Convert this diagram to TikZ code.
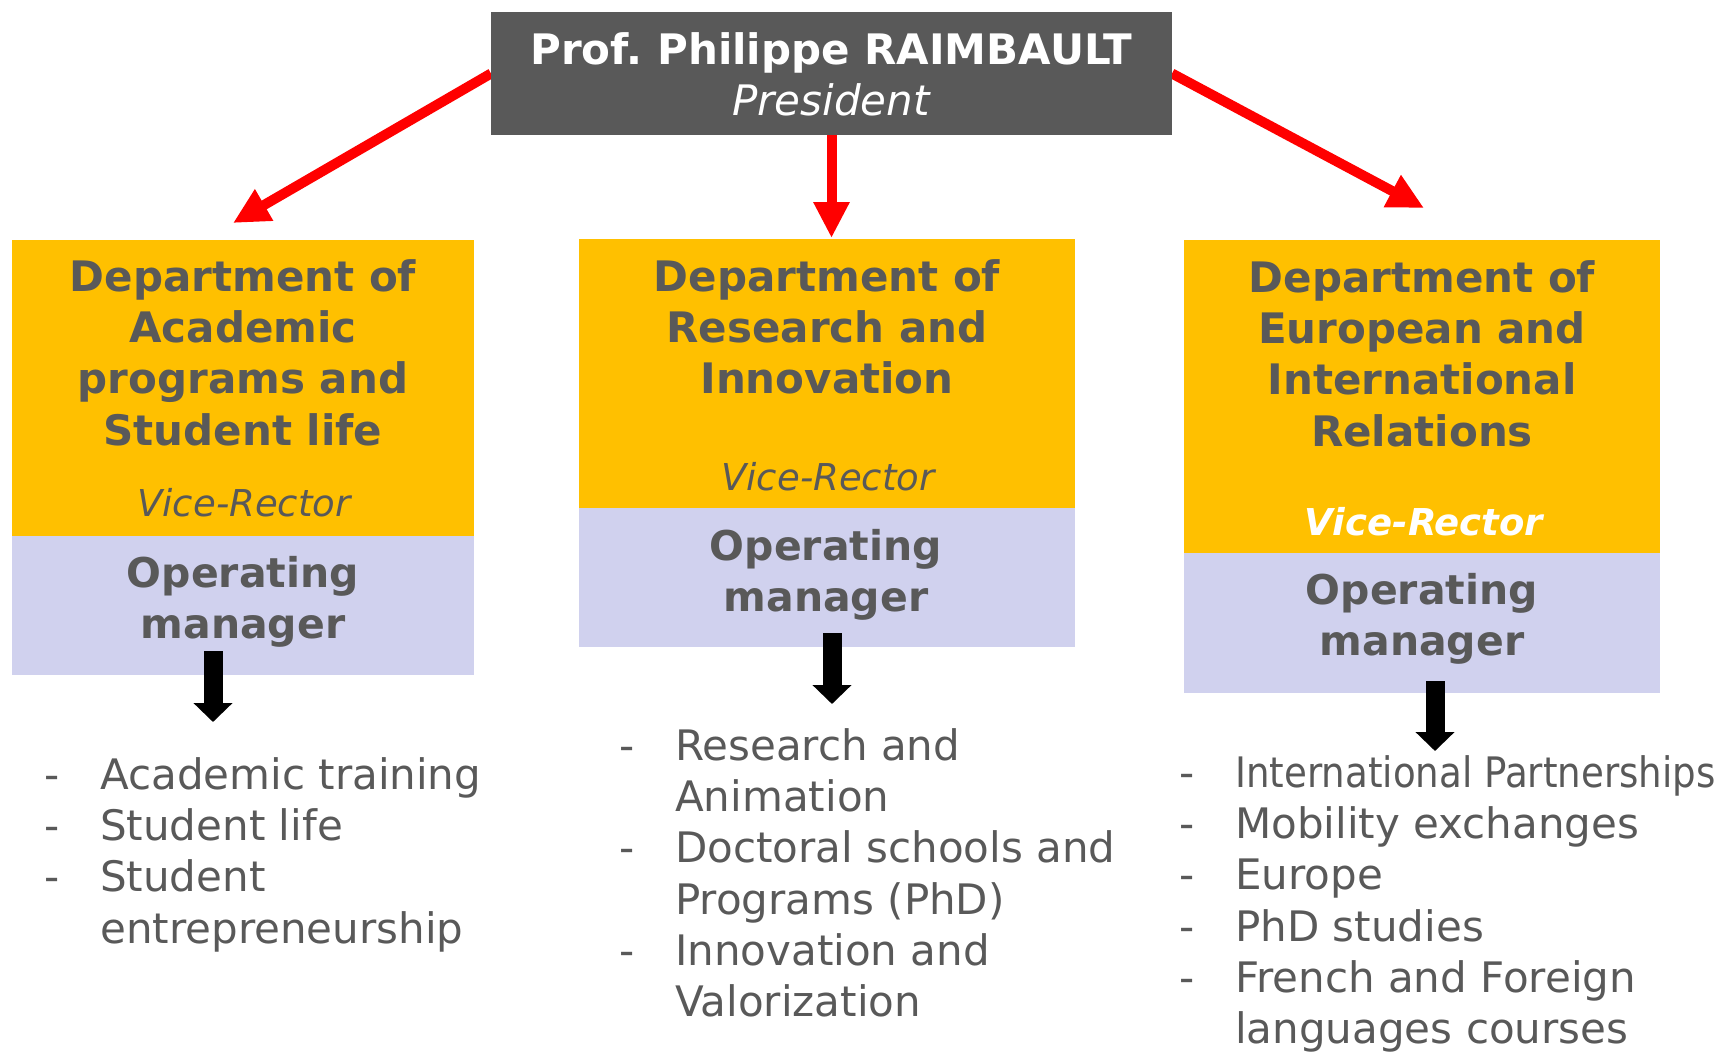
\documentclass[tikz,border=0pt]{standalone}
\usepackage{fontspec}
\setmainfont{DejaVu Sans}
\usepackage{graphicx}
\usetikzlibrary{arrows.meta}
\definecolor{bossgray}{HTML}{595959}
\definecolor{txtgray}{HTML}{595959}
\definecolor{deptyellow}{HTML}{FFC000}
\definecolor{mgrpurple}{HTML}{D0D1EE}
\definecolor{arrowred}{HTML}{FF0000}
\pgfdeclarelayer{bg}
\pgfsetlayers{bg,main}
\newcommand{\lidash}{\makebox[52pt][l]{\hspace{-4pt}-}}
\frenchspacing
\begin{document}
\begin{tikzpicture}[x=1pt,y=-1pt,
  box/.style={anchor=north west, inner sep=0pt, outer sep=0pt},
  deptbox/.style={box, fill=deptyellow},
  mgrbox/.style={box, fill=mgrpurple},
  titletxt/.style={anchor=north, inner sep=0pt, align=center, text=txtgray, font=\fontsize{42}{51.3}\selectfont\bfseries},
  vicetxt/.style={anchor=base, inner sep=0pt, text=txtgray, font=\fontsize{37}{44}\selectfont\itshape},
  mgrtxt/.style={anchor=north, inner sep=0pt, align=center, text=txtgray, font=\fontsize{41}{51.3}\selectfont\bfseries},
  listtxt/.style={anchor=north west, inner sep=0pt, text=txtgray, font=\fontsize{42}{51.3}\selectfont},
  redarrow/.style={draw=arrowred, line width=10pt, -{Triangle[width=34pt,length=36pt]}},
  blackarrow/.style={draw=black, line width=19pt, -{Triangle[width=38pt,length=19pt]}},
]
\useasboundingbox (0,0) rectangle (1723,1052);

% top box
\node[box, fill=bossgray, minimum width=681pt, minimum height=123pt] (boss) at (491,12) {};
\node[anchor=north, inner sep=0pt, align=center, text=white, font=\fontsize{42}{51}\selectfont] (bosstxt) at (831.5,28.3)
  {\strut\textbf{Prof.\ Philippe RAIMBAULT}\\\strut\textit{President}};

% department boxes
\node[deptbox, minimum width=462pt, minimum height=296pt] (d1) at (12,240) {};
\node[mgrbox, minimum width=462pt, minimum height=139pt] (m1) at (12,536) {};
\node[deptbox, minimum width=496pt, minimum height=269pt] (d2) at (579,239) {};
\node[mgrbox, minimum width=496pt, minimum height=139pt] (m2) at (579,508) {};
\node[deptbox, minimum width=476pt, minimum height=313pt] (d3) at (1184,240) {};
\node[mgrbox, minimum width=476pt, minimum height=140pt] (m3) at (1184,553) {};

% titles
\node[titletxt] (t1) at (243,255.1) {\strut Department of\\\strut Academic\\\strut programs and\\\strut Student life};
\node[titletxt] (t2) at (827,255.1) {\strut Department of\\\strut Research and\\\strut Innovation};
\node[titletxt] (t3) at (1422,256.1) {\strut Department of\\\strut European and\\\strut International\\\strut Relations};

\node[vicetxt] (v1) at (244,516) {Vice-Rector};
\node[vicetxt] (v2) at (828,490) {Vice-Rector};
\node[vicetxt, text=white, font=\fontsize{37}{44}\selectfont\bfseries\itshape] (v3) at (1424,535) {Vice-Rector};

\node[mgrtxt] (o1) at (243,551.1) {\strut Operating\\\strut manager};
\node[mgrtxt] (o2) at (826,524.1) {\strut Operating\\\strut manager};
\node[mgrtxt] (o3) at (1422,568.1) {\strut Operating\\\strut manager};

% red arrows
\coordinate (r1) at (233,223);
\coordinate (r2) at (831.5,238);
\coordinate (r3) at (1424,208);
\begin{pgfonlayer}{bg}
\draw[redarrow] (boss.west) -- (r1);
\draw[redarrow] (boss.south) -- (r2);
\draw[redarrow] (boss.east) -- (r3);
\end{pgfonlayer}

% black arrows
\coordinate (b1) at (213,722);
\coordinate (b2) at (832,704);
\coordinate (b3) at (1435,751);
\draw[blackarrow] ([xshift=-30pt,yshift=24pt]m1.south) -- (b1);
\draw[blackarrow] ([xshift=5pt,yshift=14pt]m2.south) -- (b2);
\draw[blackarrow] ([xshift=13pt,yshift=12pt]m3.south) -- (b3);

% lists
\node[listtxt] (l1) at (48,753.1) {\begin{tabular}{@{}l@{}l@{}}
\lidash & Academic training\\
\lidash & Student life\\
\lidash & Student\\
 & entrepreneurship
\end{tabular}};
\node[listtxt] (l2) at (623,724.1) {\begin{tabular}{@{}l@{}l@{}}
\lidash & Research and\\
 & Animation\\
\lidash & Doctoral schools and\\
 & Programs (PhD)\\
\lidash & Innovation and\\
 & Valorization
\end{tabular}};
\node[listtxt] (l3) at (1183,751.1) {\begin{tabular}{@{}l@{}l@{}}
\lidash & \scalebox{0.885}[1]{International Partnerships}\\
\lidash & Mobility exchanges\\
\lidash & Europe\\
\lidash & PhD studies\\
\lidash & French and Foreign\\
 & languages courses
\end{tabular}};
\end{tikzpicture}
\end{document}
